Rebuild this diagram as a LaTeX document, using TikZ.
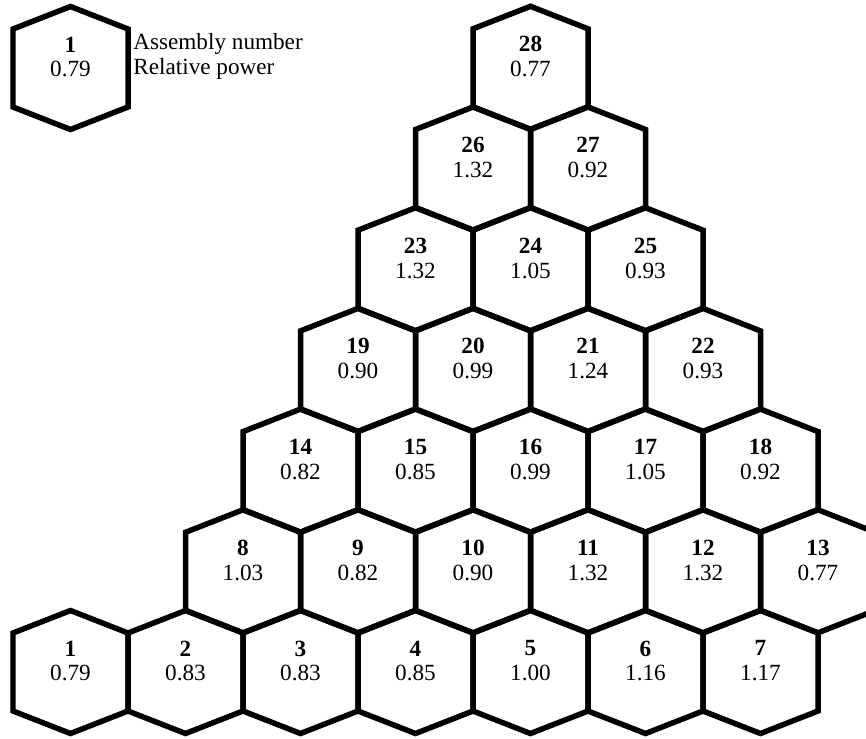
\documentclass[tikz,border=0pt]{standalone}
\usepackage{fontspec}
\setmainfont{Liberation Serif}
\usepackage{tikz}
\usetikzlibrary{positioning}

% one fuel assembly: node name, centre x, centre y, number, relative power
\newcommand{\assy}[5]{%
  \draw[hexline] (#2,#3) +(0,61.5) -- +(57.5,39) -- +(57.5,-39) -- +(0,-61.5)
    -- +(-57.5,-39) -- +(-57.5,39) -- cycle;
  \node[cell] (#1) at (#2,#3-11) {\textbf{#4}\\#5};
}

\begin{document}
\begin{tikzpicture}[x=0.02cm, y=-0.02cm,
  hexline/.style={line width=0.11cm, line join=miter, draw=black},
  cell/.style={align=center, inner sep=0pt,
               font=\fontsize{13.2}{14.2}\selectfont},
  key/.style={align=left, inner sep=0pt, anchor=west,
              font=\fontsize{13.2}{14.2}\selectfont},
]
  \clip (0,0) rectangle (866,738);
  \useasboundingbox (0,0) rectangle (866,738);

  % legend
  \assy{legend}{70.5}{68}{1}{0.79}
  \node[key] (keytext) at (133,56) {Assembly number\\Relative power};

  % row 1
  \assy{a1}{70.5}{672}{1}{0.79}
  \assy{a2}{185.5}{672}{2}{0.83}
  \assy{a3}{300.5}{672}{3}{0.83}
  \assy{a4}{415.5}{672}{4}{0.85}
  \assy{a5}{530.5}{672}{5}{1.00}
  \assy{a6}{645.5}{672}{6}{1.16}
  \assy{a7}{760.5}{672}{7}{1.17}

  % row 2
  \assy{a8}{243}{571.3}{8}{1.03}
  \assy{a9}{358}{571.3}{9}{0.82}
  \assy{a10}{473}{571.3}{10}{0.90}
  \assy{a11}{588}{571.3}{11}{1.32}
  \assy{a12}{703}{571.3}{12}{1.32}
  \assy{a13}{818}{571.3}{13}{0.77}

  % row 3
  \assy{a14}{300.5}{470.6}{14}{0.82}
  \assy{a15}{415.5}{470.6}{15}{0.85}
  \assy{a16}{530.5}{470.6}{16}{0.99}
  \assy{a17}{645.5}{470.6}{17}{1.05}
  \assy{a18}{760.5}{470.6}{18}{0.92}

  % row 4
  \assy{a19}{358}{369.9}{19}{0.90}
  \assy{a20}{473}{369.9}{20}{0.99}
  \assy{a21}{588}{369.9}{21}{1.24}
  \assy{a22}{703}{369.9}{22}{0.93}

  % row 5
  \assy{a23}{415.5}{269.2}{23}{1.32}
  \assy{a24}{530.5}{269.2}{24}{1.05}
  \assy{a25}{645.5}{269.2}{25}{0.93}

  % row 6
  \assy{a26}{473}{168.5}{26}{1.32}
  \assy{a27}{588}{168.5}{27}{0.92}

  % row 7
  \assy{a28}{530.5}{67.8}{28}{0.77}
\end{tikzpicture}
\end{document}
